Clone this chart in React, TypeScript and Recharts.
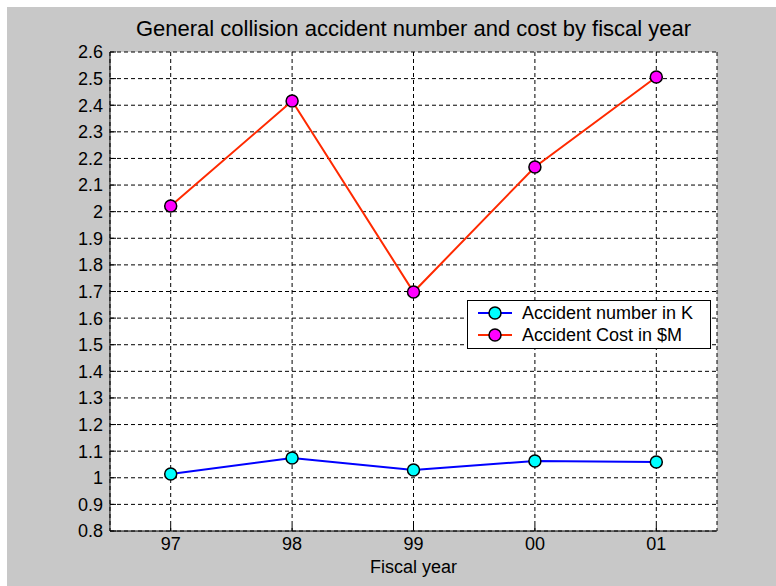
import React from 'react';
import {
  LineChart, Line, XAxis, YAxis, CartesianGrid,
} from 'recharts';

const years = ['97', '98', '99', '00', '01'];
const accidentNumber = [1.014, 1.074, 1.029, 1.063, 1.059];
const accidentCost = [2.021, 2.416, 1.698, 2.168, 2.506];
const yTicks = [0.8, 0.9, 1, 1.1, 1.2, 1.3, 1.4, 1.5, 1.6, 1.7, 1.8, 1.9, 2, 2.1, 2.2, 2.3, 2.4, 2.5, 2.6];

const data = years.map((year, i) => ({
  year,
  number: accidentNumber[i],
  cost: accidentCost[i],
}));

const FONT = 'Arial, "Liberation Sans", sans-serif';
const tickStyle = { fill: '#000', fontSize: 18, fontFamily: FONT };

const legendItems = [
  { label: 'Accident number in K', line: '#0000ff', fill: '#00ffff' },
  { label: 'Accident Cost in $M', line: '#ff2a00', fill: '#ff00ff' },
];

const LegendBox = () => (
  <div style={{
    position: 'absolute', left: 467, top: 300,
    background: '#fff', border: '1px solid #000', width: 242, height: 46,
    fontFamily: FONT, fontSize: 18, color: '#000', paddingTop: 1,
  }}>
    {legendItems.map((item, i) => (
      <div key={i} style={{ display: 'flex', alignItems: 'center', height: 22 }}>
        <svg width={46} height={20} style={{ marginLeft: 8 }}>
          <line x1={2} y1={10} x2={36} y2={10} stroke={item.line} strokeWidth={2} />
          <circle cx={19} cy={10} r={6} fill={item.fill} stroke="#000" strokeWidth={1.5} />
        </svg>
        <span>{item.label}</span>
      </div>
    ))}
  </div>
);

const App: React.FC = () => (
  <div style={{ position: 'fixed', left: 0, top: 0, width: 776, height: 586, background: '#c8c8c8' }}>
    <LineChart width={776} height={586} data={data} margin={{ top: 52, right: 59, bottom: 0, left: 0 }}>
      <CartesianGrid stroke="#000" strokeDasharray="4 3" fill="#fff" fillOpacity={1} />
      <XAxis
        dataKey="year" scale="band" height={55} stroke="#000" tick={tickStyle}
        tickSize={-6} tickMargin={12}
        label={{ value: 'Fiscal year', position: 'insideBottom', offset: 13, fill: '#000', fontSize: 18, fontFamily: FONT }}
      />
      <XAxis dataKey="year" scale="band" xAxisId="top" orientation="top" height={0} stroke="#000" tick={false} tickSize={-6} />
      <YAxis
        domain={[0.8, 2.6]} ticks={yTicks} interval={0} width={110} stroke="#000" tick={tickStyle}
        tickSize={-6} tickMargin={13} tickFormatter={(v: number) => String(+v.toFixed(1))}
      />
      <YAxis yAxisId="right" orientation="right" domain={[0.8, 2.6]} ticks={yTicks} interval={0} width={0} stroke="#000" tick={false} tickSize={-6} />
      <Line
        dataKey="number" name="Accident number in K" stroke="#0000ff" strokeWidth={2}
        dot={{ r: 6, fill: '#00ffff', stroke: '#000', strokeWidth: 1.5 }}
        isAnimationActive={false}
      />
      <Line
        dataKey="cost" name="Accident Cost in $M" stroke="#ff2a00" strokeWidth={2}
        dot={{ r: 6, fill: '#ff00ff', stroke: '#000', strokeWidth: 1.5 }}
        isAnimationActive={false}
      />
    </LineChart>
    <div style={{
      position: 'absolute', top: 16, left: 110, width: 607, textAlign: 'center',
      fontFamily: FONT, fontSize: 22, color: '#000',
    }}>
      General collision accident number and cost by fiscal year
    </div>
    <LegendBox />
    <div style={{ position: 'absolute', left: 0, top: 0, width: 776, height: 7, background: '#fff' }} />
    <div style={{ position: 'absolute', left: 0, top: 0, width: 7, height: 586, background: '#fff' }} />
  </div>
);

export default App;
